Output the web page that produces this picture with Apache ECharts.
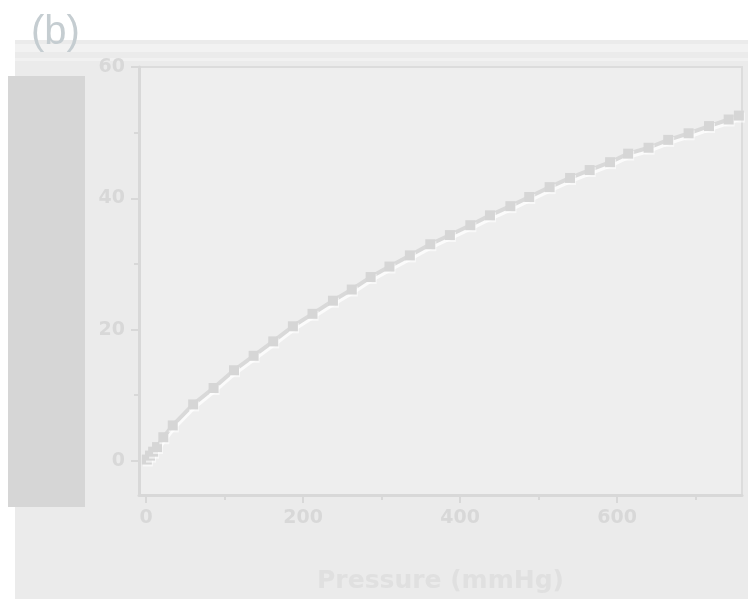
<!DOCTYPE html>
<html>
<head>
<meta charset="utf-8">
<script src="https://cdn.jsdelivr.net/npm/echarts@6/dist/echarts.min.js"></script>
<style>
  html, body { margin: 0; padding: 0; background: #ffffff; }
  #chart { width: 748px; height: 599px; }
</style>
</head>
<body>
<div id="chart"></div>
<script>
// Adsorption isotherm: uptake against pressure
const pressure = [1, 5, 9, 14, 22, 34, 60, 86, 112, 137, 162, 187, 212, 238, 262, 286, 310, 336, 362, 387, 413, 438, 464, 488, 514, 540, 565, 591, 614, 640, 665, 691, 717, 742, 755];
const uptake = [0.2, 0.8, 1.4, 2.1, 3.6, 5.4, 8.6, 11.1, 13.8, 16.0, 18.2, 20.5, 22.4, 24.4, 26.1, 28.0, 29.6, 31.3, 33.0, 34.4, 35.9, 37.4, 38.8, 40.2, 41.7, 43.1, 44.3, 45.5, 46.8, 47.7, 48.9, 49.9, 51.0, 52.0, 52.6];
const xMajorTicks = [0, 200, 400, 600];
const xMinorTicks = [100, 300, 500, 700];
const yMajorTicks = [0, 20, 40, 60];
const yMinorTicks = [10, 30, 50];
const panelLabel = '(b)';
const xTitle = 'Pressure (mmHg)';

const points = pressure.map((p, i) => [p, uptake[i]]);

const faint = '#d8d8d8';
const tickFont = { fontFamily: 'DejaVu Sans', fontWeight: 'bold', fontSize: 19, color: faint };

const chart = echarts.init(document.getElementById('chart'), null, { renderer: 'canvas' });

chart.setOption({
  animation: false,
  backgroundColor: '#ffffff',
  graphic: [
    { type: 'rect', z: -10, shape: { x: 15, y: 40, width: 733, height: 559 }, style: { fill: '#ebebeb' } },
    { type: 'rect', z: -9, shape: { x: 15, y: 44, width: 733, height: 8 }, style: { fill: '#f2f2f2' } },
    { type: 'rect', z: -9, shape: { x: 15, y: 58, width: 733, height: 3 }, style: { fill: '#f1f1f1' } },
    { type: 'rect', z: 5, shape: { x: 8, y: 76, width: 77, height: 431 }, style: { fill: '#d6d6d6' } },
    { type: 'text', z: 5, left: 31, top: 13,
      style: { text: panelLabel, font: '40px "Liberation Sans"', fill: '#c5cdd1' } }
  ],
  grid: {
    left: 139, right: 6, top: 67, bottom: 96,
    show: true,
    backgroundColor: '#eeeeee',
    borderColor: '#dcdcdc',
    borderWidth: 2
  },
  xAxis: [
    {
      type: 'value', min: -9, max: 759,
      name: xTitle, nameLocation: 'middle', nameGap: 74,
      nameTextStyle: { fontFamily: 'DejaVu Sans', fontWeight: 'bold', fontSize: 25, color: '#e0e0e0' },
      axisLine: { show: true, onZero: false, lineStyle: { color: '#d8d8d8', width: 3 } },
      axisTick: { show: true, length: 8, customValues: xMajorTicks, lineStyle: { color: '#d8d8d8', width: 2 } },
      axisLabel: Object.assign({ margin: 14, customValues: xMajorTicks }, tickFont),
      splitLine: { show: false }
    },
    {
      type: 'value', min: -9, max: 759, position: 'bottom',
      axisLine: { show: false, onZero: false },
      axisTick: { show: true, length: 5, customValues: xMinorTicks, lineStyle: { color: '#d8d8d8', width: 2 } },
      axisLabel: { show: false },
      splitLine: { show: false }
    }
  ],
  yAxis: [
    {
      type: 'value', min: -5.2, max: 60,
      axisLine: { show: true, onZero: false, lineStyle: { color: '#d8d8d8', width: 3 } },
      axisTick: { show: true, length: 8, customValues: yMajorTicks, lineStyle: { color: '#d8d8d8', width: 2 } },
      axisLabel: Object.assign({ margin: 14, customValues: yMajorTicks }, tickFont),
      splitLine: { show: false }
    },
    {
      type: 'value', min: -5.2, max: 60, position: 'left',
      axisLine: { show: false, onZero: false },
      axisTick: { show: true, length: 5, customValues: yMinorTicks, lineStyle: { color: '#d8d8d8', width: 2 } },
      axisLabel: { show: false },
      splitLine: { show: false }
    }
  ],
  series: [
    {
      type: 'line',
      data: points,
      xAxisIndex: 0,
      yAxisIndex: 0,
      symbol: 'rect',
      symbolSize: 10,
      showAllSymbol: true,
      lineStyle: {
        color: '#d9d9d9', width: 4,
        shadowColor: 'rgba(255,255,255,0.75)', shadowOffsetX: 1, shadowOffsetY: 3, shadowBlur: 0
      },
      itemStyle: {
        color: '#d6d6d6',
        shadowColor: 'rgba(255,255,255,0.6)', shadowOffsetX: 1, shadowOffsetY: 2, shadowBlur: 0
      }
    }
  ]
});
</script>
</body>
</html>
